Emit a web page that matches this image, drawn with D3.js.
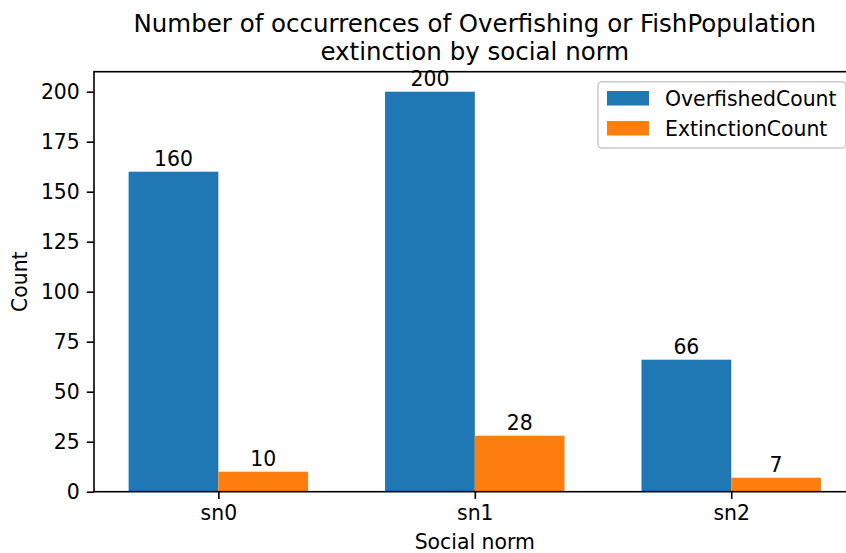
<!DOCTYPE html>
<html>
<head>
<meta charset="utf-8">
<script src="https://cdn.jsdelivr.net/npm/d3@7"></script>
<style>
  html, body { margin: 0; padding: 0; background: #fff; }
  svg { display: block; font-family: "DejaVu Sans", sans-serif; }
</style>
</head>
<body>
<svg id="chart" width="846" height="553"></svg>
<script>
// Counts per social norm
const categories = ["sn0", "sn1", "sn2"];
const overfishedCount = [160, 200, 66];
const extinctionCount = [10, 28, 7];
const seriesNames = ["OverfishedCount", "ExtinctionCount"];
const seriesColors = ["#1f77b4", "#ff7f0e"];
const yTicks = [0, 25, 50, 75, 100, 125, 150, 175, 200];

const series = [overfishedCount, extinctionCount];

const W = 846, H = 553;
const plot = { left: 94, top: 71.7, right: 855.6, bottom: 491.7 };
const barWidth = 0.35;
const fs = 20.4;        // tick / legend font size
const tickLen = 7.2, tickPad = 7, lw = 1.6;

const svg = d3.select("#chart");

const x = d3.scaleLinear()
  .domain([-0.485, categories.length - 1 + 0.485])
  .range([plot.left, plot.right]);
const y = d3.scaleLinear()
  .domain([0, 210])
  .range([plot.bottom, plot.top]);

// Bars
series.forEach((vals, s) => {
  const offset = (s === 0 ? -barWidth / 2 : barWidth / 2);
  const g = svg.append("g");
  g.selectAll("rect").data(vals).join("rect")
    .attr("x", (d, i) => x(i + offset - barWidth / 2))
    .attr("width", x(barWidth) - x(0))
    .attr("y", d => y(d))
    .attr("height", d => y(0) - y(d))
    .attr("fill", seriesColors[s]);
  g.selectAll("text").data(vals).join("text")
    .attr("x", (d, i) => x(i + offset))
    .attr("y", d => y(d) - 6)
    .attr("text-anchor", "middle")
    .attr("font-size", fs)
    .attr("fill", "#000")
    .text(d => d);
});

// Axes
const yAxis = svg.append("g")
  .attr("transform", `translate(${plot.left},0)`)
  .call(d3.axisLeft(y).tickValues(yTicks).tickSize(tickLen).tickPadding(tickPad));
const xAxis = svg.append("g")
  .attr("transform", `translate(0,${plot.bottom})`)
  .call(d3.axisBottom(x).tickValues(categories.map((c, i) => i))
        .tickFormat(i => categories[i]).tickSize(tickLen).tickPadding(tickPad));
[yAxis, xAxis].forEach(a => {
  a.select(".domain").remove();
  a.selectAll(".tick line").attr("stroke", "#000").attr("stroke-width", lw);
  a.selectAll(".tick text").attr("font-size", fs).attr("fill", "#000")
    .attr("font-family", "DejaVu Sans, sans-serif");
});

// Frame
svg.append("rect")
  .attr("x", plot.left).attr("y", plot.top)
  .attr("width", plot.right - plot.left).attr("height", plot.bottom - plot.top)
  .attr("fill", "none").attr("stroke", "#000").attr("stroke-width", lw);

// Title
const cx = (plot.left + plot.right) / 2;
const title = svg.append("text")
  .attr("x", cx).attr("text-anchor", "middle").attr("font-size", 24.5).attr("fill", "#000");
title.append("tspan").attr("x", cx).attr("y", 32)
  .text("Number of occurrences of Overfishing or FishPopulation");
title.append("tspan").attr("x", cx).attr("y", 60)
  .text("extinction by social norm");

// Axis labels
svg.append("text")
  .attr("x", cx).attr("y", 548.5)
  .attr("text-anchor", "middle").attr("font-size", fs).attr("fill", "#000")
  .text("Social norm");
svg.append("text")
  .attr("transform", `translate(27,${(plot.top + plot.bottom) / 2}) rotate(-90)`)
  .attr("text-anchor", "middle").attr("font-size", fs).attr("fill", "#000")
  .text("Count");

// Legend
const lg = svg.append("g");
lg.append("rect")
  .attr("x", 598).attr("y", 81.7)
  .attr("width", 845.8 - 598).attr("height", 148 - 81.7)
  .attr("rx", 4).attr("ry", 4)
  .attr("fill", "#fff").attr("fill-opacity", 0.8)
  .attr("stroke", "#cccccc").attr("stroke-width", lw);
seriesNames.forEach((name, i) => {
  const yy = 91 + i * 30;
  lg.append("rect")
    .attr("x", 607).attr("y", yy).attr("width", 42).attr("height", 14.5)
    .attr("fill", seriesColors[i]);
  lg.append("text")
    .attr("x", 665).attr("y", yy + 14.5)
    .attr("font-size", fs).attr("fill", "#000")
    .text(name);
});
</script>
</body>
</html>
